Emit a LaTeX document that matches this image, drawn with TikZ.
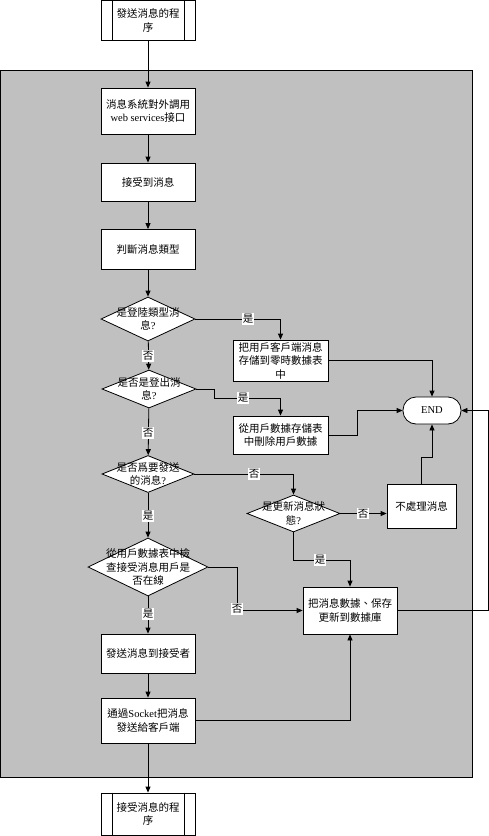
\documentclass[tikz,border=0pt]{standalone}
\usepackage{fontspec}
\setmainfont{Noto Sans CJK TC}
\newfontfamily\lat{Liberation Serif}
\usetikzlibrary{shapes.geometric,arrows.meta}
\definecolor{panel}{RGB}{192,192,192}

\begin{document}
\begin{tikzpicture}[x=1pt,y=-1pt,line width=0.8pt,font=\fontsize{10.5}{13.5}\selectfont,
  box/.style={shape=rectangle,draw=black,fill=white,minimum width=94pt,inner sep=1pt,align=center},
  term/.style={box,rounded corners=13pt,minimum width=58pt,minimum height=27pt},
  dec/.style={shape=diamond,draw=black,fill=white,inner sep=0pt},
  dectxt/.style={align=center,inner sep=0pt},
  lbl/.style={fill=white,inner sep=1pt},
  arr/.style={-{Triangle[length=6pt,width=5pt]}}]
\useasboundingbox (0,0) rectangle (489,836);

\draw[fill=panel] (0,70.5) rectangle (472,777);

\node[box,minimum height=39.5pt] (send) at (148,20.25) {發送消息的程\\序};
\draw ([xshift=11.5pt]send.north west) -- ([xshift=11.5pt]send.south west);
\draw ([xshift=-11.5pt]send.north east) -- ([xshift=-11.5pt]send.south east);

\node[box,minimum height=46pt] (api) at (148,111) {消息系統對外調用\\{\lat web services}接口};
\node[box,minimum height=38pt] (recvmsg) at (148,182) {接受到消息};
\node[box,minimum height=40pt] (kind) at (148,249.5) {判斷消息類型};

\node[dec,minimum width=94pt,minimum height=44pt,label={[dectxt]center:{是登陸類型消\\息{\lat ?}}}] (d1) at (148,319) {};
\node[dec,minimum width=94pt,minimum height=38pt,label={[dectxt]center:{是否是登出消\\息{\lat ?}}}] (d2) at (149,389) {};
\node[dec,minimum width=92pt,minimum height=37pt,label={[dectxt]center:{是否爲要發送\\的消息{\lat ?}}}] (d3) at (148,474) {};
\node[dec,minimum width=93pt,minimum height=37pt,label={[dectxt]center:{是更新消息狀\\態{\lat ?}}}] (d4) at (293.5,513.5) {};
\node[dec,minimum width=120pt,minimum height=58pt,label={[dectxt]center:{從用戶數據表中檢\\查接受消息用戶是\\否在線}}] (d5) at (148,567) {};

\node[box,minimum width=95pt,minimum height=41pt] (temp) at (280.5,360.5) {把用戶客戶端消息\\存儲到零時數據表\\中};
\node[box,minimum width=95pt,minimum height=38pt] (del) at (280.5,435) {從用戶數據存儲表\\中刪除用戶數據};
\node[term] (end) at (432,410.5) {{\lat END}};
\node[box,minimum width=69pt,minimum height=44pt] (skip) at (421.5,506) {不處理消息};
\node[box,minimum height=47pt] (store) at (350,610.5) {把消息數據、保存\\更新到數據庫};
\node[box,minimum height=39pt] (deliver) at (148,653.5) {發送消息到接受者};
\node[box,minimum height=45pt] (sock) at (148,720.5) {通過{\lat Socket}把消息\\發送給客戶端};

\node[box,minimum height=42pt] (recv) at (148,814) {接受消息的程\\序};
\draw ([xshift=11.5pt]recv.north west) -- ([xshift=11.5pt]recv.south west);
\draw ([xshift=-11.5pt]recv.north east) -- ([xshift=-11.5pt]recv.south east);

% main column
\draw[arr] (send) -- (api);
\draw[arr] (api) -- (recvmsg);
\draw[arr] (recvmsg) -- (kind);
\draw[arr] (kind) -- (d1);
\draw[arr] (d1) -- (d2);
\draw[arr] (d2) -- (d3);
\draw[arr] (d3) -- (d5);
\draw[arr] (d5) -- (deliver);
\draw[arr] (deliver) -- (sock);
\draw[arr] (sock) -- (recv);

% branches
\draw[arr] (d1.east) -| (temp.north);
\draw[arr] (d2.east) -| (214,398) -| (del.north);
\draw[arr] (temp.east) -| (end.north);
\draw[arr] (del.east) -- (357,435) |- (end.west);
\draw[arr] (d3.east) -| (d4.north);
\draw[arr] (d4.east) -- (d4.east -| skip.west);
\draw[arr] (skip.north) |- (432,457) -- (end.south);
\draw[arr] (d4.south) -- (293.5,560) -| (store.north);
\draw[arr] (d5.east) -- (237,567) |- (store.west);
\draw[arr] (store.east) -- (488,610.5) |- (end.east);
\draw[arr] (sock.east) -| (store.south);

\node[lbl] (y1) at (248,319) {是};
\node[lbl] (n1) at (148,356) {否};
\node[lbl] (y2) at (243,398) {是};
\node[lbl] (n2) at (148,433) {否};
\node[lbl] (n3) at (254,474) {否};
\node[lbl] (y3) at (148,516) {是};
\node[lbl] (n4) at (363,513.5) {否};
\node[lbl] (y4) at (320,560) {是};
\node[lbl] (n5) at (237,609) {否};
\node[lbl] (y5) at (148,614) {是};
\end{tikzpicture}
\end{document}
